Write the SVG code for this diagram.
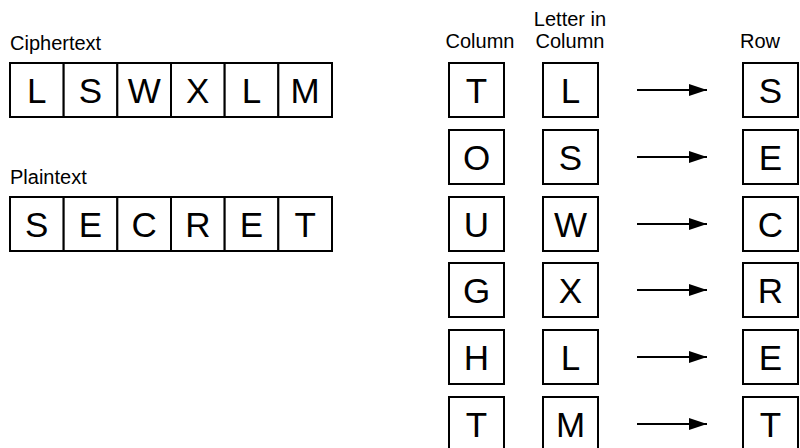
<svg xmlns="http://www.w3.org/2000/svg" width="800" height="448" viewBox="0 0 800 448">
<style>
.bx{fill:#fff;stroke:#000;stroke-width:2}
.lt{font-family:"Liberation Sans",Arial,sans-serif;font-size:35px;text-anchor:middle;fill:#000}
.lb{font-family:"Liberation Sans",Arial,sans-serif;font-size:20px;fill:#000}
.ar{stroke:#000;stroke-width:2.2;fill:none}
</style>
<defs>
<marker id="ah" markerWidth="18" markerHeight="12" refX="18" refY="6" orient="auto" markerUnits="userSpaceOnUse">
<path d="M0,0 L18,6 L0,12 Z" fill="#000"/>
</marker>
</defs>
<rect width="800" height="448" fill="#fff"/>

<g id="labels">
<text class="lb" x="10" y="50">Ciphertext</text>
<text class="lb" x="10" y="184">Plaintext</text>
<text class="lb" x="480" y="48" text-anchor="middle">Column</text>
<text class="lb" x="570" y="26" text-anchor="middle">Letter in</text>
<text class="lb" x="570" y="48" text-anchor="middle">Column</text>
<text class="lb" x="760" y="48" text-anchor="middle">Row</text>
</g>

<g id="ciphertext">
<g id="c1"><rect class="bx" x="10" y="63" width="53.67" height="54"/><text class="lt" x="36.8" y="103">L</text></g>
<g id="c2"><rect class="bx" x="63.67" y="63" width="53.67" height="54"/><text class="lt" x="90.5" y="103">S</text></g>
<g id="c3"><rect class="bx" x="117.33" y="63" width="53.67" height="54"/><text class="lt" x="144.2" y="103">W</text></g>
<g id="c4"><rect class="bx" x="171" y="63" width="53.67" height="54"/><text class="lt" x="197.8" y="103">X</text></g>
<g id="c5"><rect class="bx" x="224.67" y="63" width="53.67" height="54"/><text class="lt" x="251.5" y="103">L</text></g>
<g id="c6"><rect class="bx" x="278.33" y="63" width="53.67" height="54"/><text class="lt" x="305.2" y="103">M</text></g>
</g>

<g id="plaintext">
<g id="p1"><rect class="bx" x="10" y="197" width="53.67" height="54"/><text class="lt" x="36.8" y="237">S</text></g>
<g id="p2"><rect class="bx" x="63.67" y="197" width="53.67" height="54"/><text class="lt" x="90.5" y="237">E</text></g>
<g id="p3"><rect class="bx" x="117.33" y="197" width="53.67" height="54"/><text class="lt" x="144.2" y="237">C</text></g>
<g id="p4"><rect class="bx" x="171" y="197" width="53.67" height="54"/><text class="lt" x="197.8" y="237">R</text></g>
<g id="p5"><rect class="bx" x="224.67" y="197" width="53.67" height="54"/><text class="lt" x="251.5" y="237">E</text></g>
<g id="p6"><rect class="bx" x="278.33" y="197" width="53.67" height="54"/><text class="lt" x="305.2" y="237">T</text></g>
</g>

<g id="col1"><rect class="bx" x="449" y="63" width="55" height="54"/><text class="lt" x="476.5" y="103">T</text></g>
<g id="col2"><rect class="bx" x="449" y="130" width="55" height="54"/><text class="lt" x="476.5" y="170">O</text></g>
<g id="col3"><rect class="bx" x="449" y="197" width="55" height="54"/><text class="lt" x="476.5" y="237">U</text></g>
<g id="col4"><rect class="bx" x="449" y="263" width="55" height="54"/><text class="lt" x="476.5" y="303">G</text></g>
<g id="col5"><rect class="bx" x="449" y="330" width="55" height="54"/><text class="lt" x="476.5" y="370">H</text></g>
<g id="col6"><rect class="bx" x="449" y="397" width="55" height="54"/><text class="lt" x="476.5" y="437">T</text></g>

<g id="let1"><rect class="bx" x="543" y="63" width="55" height="54"/><text class="lt" x="570.5" y="103">L</text></g>
<g id="let2"><rect class="bx" x="543" y="130" width="55" height="54"/><text class="lt" x="570.5" y="170">S</text></g>
<g id="let3"><rect class="bx" x="543" y="197" width="55" height="54"/><text class="lt" x="570.5" y="237">W</text></g>
<g id="let4"><rect class="bx" x="543" y="263" width="55" height="54"/><text class="lt" x="570.5" y="303">X</text></g>
<g id="let5"><rect class="bx" x="543" y="330" width="55" height="54"/><text class="lt" x="570.5" y="370">L</text></g>
<g id="let6"><rect class="bx" x="543" y="397" width="55" height="54"/><text class="lt" x="570.5" y="437">M</text></g>

<g id="row1"><rect class="bx" x="743" y="63" width="55" height="54"/><text class="lt" x="770.5" y="103">S</text></g>
<g id="row2"><rect class="bx" x="743" y="130" width="55" height="54"/><text class="lt" x="770.5" y="170">E</text></g>
<g id="row3"><rect class="bx" x="743" y="197" width="55" height="54"/><text class="lt" x="770.5" y="237">C</text></g>
<g id="row4"><rect class="bx" x="743" y="263" width="55" height="54"/><text class="lt" x="770.5" y="303">R</text></g>
<g id="row5"><rect class="bx" x="743" y="330" width="55" height="54"/><text class="lt" x="770.5" y="370">E</text></g>
<g id="row6"><rect class="bx" x="743" y="397" width="55" height="54"/><text class="lt" x="770.5" y="437">T</text></g>

<g id="connectors">
<line class="ar" x1="637" y1="90" x2="707" y2="90" marker-end="url(#ah)"/>
<line class="ar" x1="637" y1="157" x2="707" y2="157" marker-end="url(#ah)"/>
<line class="ar" x1="637" y1="224" x2="707" y2="224" marker-end="url(#ah)"/>
<line class="ar" x1="637" y1="290" x2="707" y2="290" marker-end="url(#ah)"/>
<line class="ar" x1="637" y1="357" x2="707" y2="357" marker-end="url(#ah)"/>
<line class="ar" x1="637" y1="424" x2="707" y2="424" marker-end="url(#ah)"/>
</g>
</svg>
